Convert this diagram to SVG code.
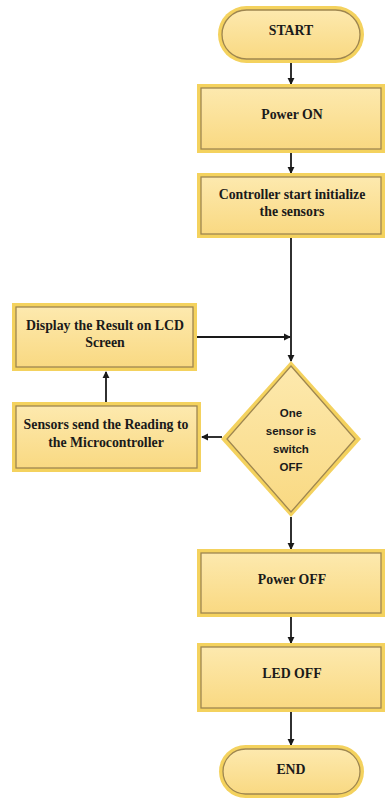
<svg xmlns="http://www.w3.org/2000/svg" width="387" height="803" viewBox="0 0 387 803">
  <style>
    .bevel { fill: #F4D25E; }
    .face { fill: url(#faceGrad); stroke: #9E8650; stroke-width: 1.3; }
    .lbl { font-family: "Liberation Serif", "Times New Roman", serif; font-weight: bold; font-size: 13.8px; fill: #1a1a1a; text-anchor: middle; }
    .dlbl { font-family: "Liberation Sans", Arial, sans-serif; font-weight: bold; font-size: 11.5px; fill: #1a1a1a; text-anchor: middle; }
    .conn { stroke: #1a1a1a; stroke-width: 1.8; fill: none; marker-end: url(#arrow); }
  </style>
  <defs>
    <linearGradient id="faceGrad" x1="0" y1="0" x2="0" y2="1">
      <stop offset="0" stop-color="#FDE9AE"/>
      <stop offset="1" stop-color="#F9D982"/>
    </linearGradient>
    <marker id="arrow" viewBox="0 0 8 8" refX="7" refY="4" markerWidth="4" markerHeight="4" orient="auto" markerUnits="strokeWidth">
      <path d="M0,0 L8,4 L0,8 z" fill="#1a1a1a"/>
    </marker>
  </defs>

  <rect width="387" height="803" fill="#ffffff"/>

  <!-- connectors -->
  <g id="connectors">
    <line class="conn" x1="291" y1="63" x2="291" y2="84"/>
    <line class="conn" x1="291" y1="153" x2="291" y2="173"/>
    <line class="conn" x1="291" y1="238" x2="291" y2="361"/>
    <line class="conn" x1="197" y1="337" x2="290" y2="337"/>
    <line class="conn" x1="222" y1="437" x2="202" y2="437"/>
    <line class="conn" x1="106" y1="402" x2="106" y2="372"/>
    <line class="conn" x1="291" y1="517" x2="291" y2="549"/>
    <line class="conn" x1="291" y1="617" x2="291" y2="643"/>
    <line class="conn" x1="291" y1="712" x2="291" y2="745"/>
  </g>

  <!-- start terminal -->
  <g id="start">
    <rect class="bevel" x="218" y="6" width="146" height="57" rx="28.5"/>
    <rect class="face" x="222" y="10" width="138" height="49" rx="24.5"/>
    <text class="lbl" x="291" y="35">START</text>
  </g>

  <g id="power-on">
    <rect class="bevel" x="197" y="84" width="188" height="69"/>
    <rect class="face" x="201" y="88" width="180" height="61"/>
    <text class="lbl" x="292" y="119">Power ON</text>
  </g>

  <g id="init-sensors">
    <rect class="bevel" x="197" y="173" width="188" height="65"/>
    <rect class="face" x="201" y="177" width="180" height="57"/>
    <text class="lbl" x="292" y="199">Controller start initialize</text>
    <text class="lbl" x="292" y="216">the sensors</text>
  </g>

  <g id="display-lcd">
    <rect class="bevel" x="12" y="303" width="185" height="68"/>
    <rect class="face" x="16" y="307" width="177" height="60"/>
    <text class="lbl" x="105" y="330">Display the Result on LCD</text>
    <text class="lbl" x="105" y="347">Screen</text>
  </g>

  <g id="sensors-send">
    <rect class="bevel" x="12" y="402" width="189" height="70"/>
    <rect class="face" x="16" y="406" width="181" height="62"/>
    <text class="lbl" x="106" y="429">Sensors send the Reading to</text>
    <text class="lbl" x="106" y="447">the Microcontroller</text>
  </g>

  <g id="decision">
    <polygon class="bevel" points="291,361 361,439 291,517 221,439"/>
    <polygon class="face" points="291,366 355,439 291,512 227,439"/>
    <text class="dlbl" x="291" y="417">One</text>
    <text class="dlbl" x="291" y="435">sensor is</text>
    <text class="dlbl" x="291" y="453">switch</text>
    <text class="dlbl" x="291" y="471">OFF</text>
  </g>

  <g id="power-off">
    <rect class="bevel" x="197" y="549" width="188" height="68"/>
    <rect class="face" x="201" y="553" width="180" height="60"/>
    <text class="lbl" x="292" y="584">Power OFF</text>
  </g>

  <g id="led-off">
    <rect class="bevel" x="197" y="643" width="188" height="69"/>
    <rect class="face" x="201" y="647" width="180" height="61"/>
    <text class="lbl" x="292" y="678">LED OFF</text>
  </g>

  <!-- end terminal -->
  <g id="end">
    <rect class="bevel" x="219" y="745" width="145" height="53" rx="26.5"/>
    <rect class="face" x="223" y="749" width="137" height="45" rx="22.5"/>
    <text class="lbl" x="291" y="774">END</text>
  </g>
</svg>
